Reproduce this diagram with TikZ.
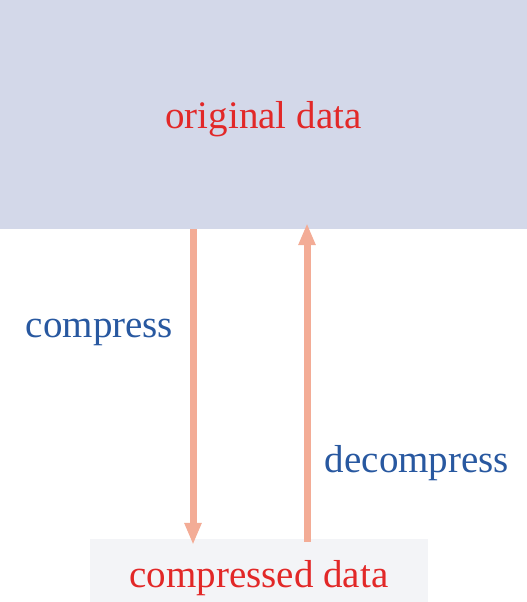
\documentclass[tikz,border=0pt]{standalone}
\usepackage{fontspec}
\setmainfont{Liberation Serif}
\usetikzlibrary{positioning,arrows.meta}

\definecolor{boxblue}{RGB}{211,216,233}
\definecolor{boxgray}{RGB}{243,244,247}
\definecolor{flowsalmon}{RGB}{243,172,150}
\definecolor{textred}{RGB}{226,40,40}
\definecolor{textblue}{RGB}{40,88,160}

\begin{document}
\begin{tikzpicture}[x=1pt,y=-1pt,
    databox/.style={rectangle,inner sep=0pt,text=textred,font=\fontsize{39}{46}\selectfont},
    flow/.style={draw=flowsalmon,line width=7pt,-{Triangle[length=22pt,width=16pt]}},
    steplabel/.style={anchor=base,text=textblue,font=\fontsize{39}{46}\selectfont}]
    \useasboundingbox (0,0) rectangle (527,602);

    % Data boxes
    \node[databox,fill=boxblue,minimum width=527pt,minimum height=229pt,text height=36pt,text depth=9pt] (orig) at (263.5,114.5) {original data};
    \node[databox,fill=boxgray,minimum width=338pt,minimum height=63pt,text height=43pt,text depth=9pt] (comp) at (259,570.5) {compressed data};

    % Arrows
    \draw[flow] ([xshift=-70.5pt]orig.south) -- ([xshift=-66pt,yshift=-6pt]comp.north);
    \draw[flow] ([xshift=48pt,yshift=-3pt]comp.north) -- ([xshift=43.5pt,yshift=6pt]orig.south);

    % Labels
    \node[steplabel] (cmp) at (99.5,337) {compress};
    \node[steplabel] (dec) at (417,472) {decompress};
\end{tikzpicture}
\end{document}
